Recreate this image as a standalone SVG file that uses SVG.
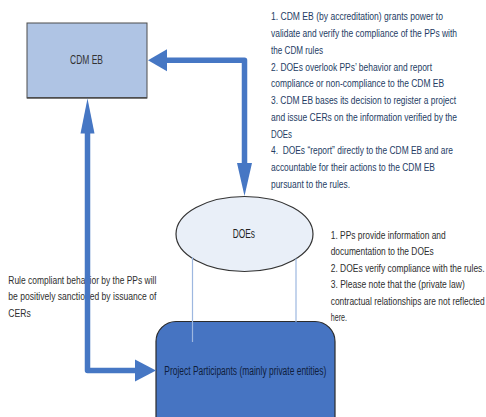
<svg xmlns="http://www.w3.org/2000/svg" width="486" height="417" viewBox="0 0 486 417">
<style>
.t{font-family:"Liberation Sans Narrow","Liberation Sans",Arial,sans-serif;font-size:11.5px;}
.tr{fill:#243c64;}
.tg{fill:#2e2e2e;}
.lbl{font-family:"Liberation Sans Narrow","Liberation Sans",Arial,sans-serif;font-size:12px;}
.conn{fill:none;stroke:#4677c4;stroke-width:5.5;stroke-linejoin:round;}
.head{fill:#4677c4;}
.thin{stroke:#9db7e0;stroke-width:1.2;fill:none;}
</style>
<rect width="486" height="417" fill="#ffffff"/>
<g id="note-top" transform="translate(271,0) scale(0.65,1)">
<text class="t tr" x="0" y="20.5" textLength="264.6" lengthAdjust="spacingAndGlyphs">1. CDM EB (by accreditation) grants power to</text>
<text class="t tr" x="0" y="37.25" textLength="286.2" lengthAdjust="spacingAndGlyphs">validate and verify the compliance of the PPs with</text>
<text class="t tr" x="0" y="54" textLength="80" lengthAdjust="spacingAndGlyphs">the CDM rules</text>
<text class="t tr" x="0" y="70.75" textLength="247.7" lengthAdjust="spacingAndGlyphs">2. DOEs overlook PPs’ behavior and report</text>
<text class="t tr" x="0" y="87.5" textLength="266.2" lengthAdjust="spacingAndGlyphs">compliance or non-compliance to the CDM EB</text>
<text class="t tr" x="0" y="104.25" textLength="284.6" lengthAdjust="spacingAndGlyphs">3. CDM EB bases its decision to register a project</text>
<text class="t tr" x="0" y="121" textLength="286.2" lengthAdjust="spacingAndGlyphs">and issue CERs on the information verified by the</text>
<text class="t tr" x="0" y="137.75" textLength="32.3" lengthAdjust="spacingAndGlyphs">DOEs</text>
<text class="t tr" x="0" y="154.5" textLength="280" lengthAdjust="spacingAndGlyphs" xml:space="preserve">4.  DOEs “report” directly to the CDM EB and are</text>
<text class="t tr" x="0" y="171.25" textLength="252.3" lengthAdjust="spacingAndGlyphs">accountable for their actions to the CDM EB</text>
<text class="t tr" x="0" y="188" textLength="121.5" lengthAdjust="spacingAndGlyphs">pursuant to the rules.</text>
</g>
<g id="note-right" transform="translate(330.7,0) scale(0.65,1)">
<text class="t tg" x="0" y="239" textLength="176.9" lengthAdjust="spacingAndGlyphs">1. PPs provide information and</text>
<text class="t tg" x="0" y="255.5" textLength="158.5" lengthAdjust="spacingAndGlyphs">documentation to the DOEs</text>
<text class="t tg" x="0" y="272" textLength="236.9" lengthAdjust="spacingAndGlyphs">2. DOEs verify compliance with the rules.</text>
<text class="t tg" x="0" y="288.5" textLength="206.2" lengthAdjust="spacingAndGlyphs">3. Please note that the (private law)</text>
<text class="t tg" x="0" y="305" textLength="236.9" lengthAdjust="spacingAndGlyphs">contractual relationships are not reflected</text>
<text class="t tg" x="0" y="321.5" textLength="25" lengthAdjust="spacingAndGlyphs">here.</text>
</g>
<g id="note-left" transform="translate(8.3,0) scale(0.65,1)">
<text class="t tg" x="0" y="284" textLength="227.7" lengthAdjust="spacingAndGlyphs">Rule compliant behavior by the PPs will</text>
<text class="t tg" x="0" y="300.4" textLength="227.7" lengthAdjust="spacingAndGlyphs">be positively sanctioned by issuance of</text>
<text class="t tg" x="0" y="316.8" textLength="34.5" lengthAdjust="spacingAndGlyphs">CERs</text>
</g>
<g id="cdm-eb">
<rect x="27" y="23" width="120" height="75" fill="#afc4e4" stroke="#4d4d4d" stroke-width="1"/>
<line x1="27" y1="97.8" x2="147" y2="97.8" stroke="#4d4d4d" stroke-width="1.6"/>
<text class="lbl" x="70" y="64" fill="#333333" textLength="33" lengthAdjust="spacingAndGlyphs">CDM EB</text>
</g>
<g id="does">
<ellipse cx="244.5" cy="234" rx="68.5" ry="37.5" fill="#e9eff8" stroke="#333333" stroke-width="1.2"/>
<text class="lbl" x="232.7" y="238.3" fill="#222222" font-size="12.5" textLength="22.3" lengthAdjust="spacingAndGlyphs">DOEs</text>
</g>
<g id="project-participants">
<rect x="156" y="321.5" width="179" height="125" rx="20" ry="20" fill="#4674c2" stroke="#2b2b2b" stroke-width="1.2"/>
<text class="lbl" x="164.3" y="374.5" fill="#0f1e3c" textLength="162" lengthAdjust="spacingAndGlyphs">Project Participants (mainly private entities)</text>
</g>
<g id="connectors">
<line class="thin" x1="192.5" y1="257" x2="192.5" y2="342"/>
<line class="thin" x1="296" y1="258.5" x2="296" y2="322"/>
<path class="conn" d="M244.5,163 V60.3 H166"/>
<polygon class="head" points="148,60.3 167,49.3 167,71.3"/>
<polygon class="head" points="237,163 252,163 244.5,196"/>
<path class="conn" d="M87.5,133 V370.5 H136"/>
<polygon class="head" points="80.5,133.5 94.5,133.5 87.5,98.5"/>
<polygon class="head" points="135,359.5 135,381.5 156,370.5"/>
</g>
</svg>
